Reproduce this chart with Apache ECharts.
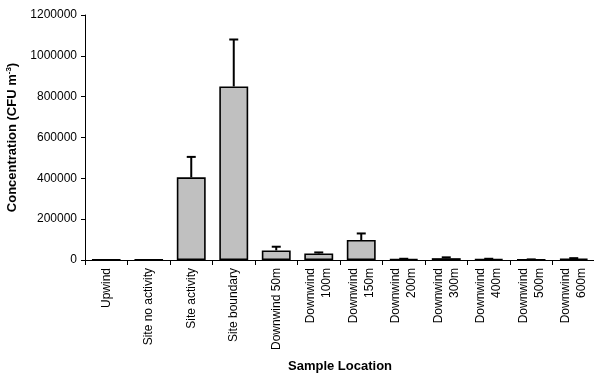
<!DOCTYPE html>
<html>
<head>
<meta charset="utf-8">
<script src="https://cdn.jsdelivr.net/npm/echarts@6/dist/echarts.min.js"></script>
<style>html,body{margin:0;padding:0;background:#fff;}#c{width:594px;height:375px;}</style>
</head>
<body>
<div id="c"></div>
<script>
var categories = ['Upwind', 'Site no activity', 'Site activity', 'Site boundary', 'Downwind 50m',
  'Downwind\n100m', 'Downwind\n150m', 'Downwind\n200m', 'Downwind\n300m', 'Downwind\n400m', 'Downwind\n500m', 'Downwind\n600m'];
var means = [1500, 1500, 405000, 850000, 47000, 32000, 98000, 5000, 9000, 5000, 2000, 6000];
var errors = [0, 0, 100000, 230000, 18000, 5000, 32000, 1000, 4000, 1000, 1000, 3000];
var yTicks = [0, 200000, 400000, 600000, 800000, 1000000, 1200000];

var errData = means.map(function (m, i) { return [i, m, errors[i]]; });
var font = 'Liberation Sans, Arial, sans-serif';
var chart = echarts.init(document.getElementById('c'), null, { renderer: 'canvas' });
chart.setOption({
  animation: false,
  backgroundColor: '#fff',
  grid: { left: 85, top: 15, width: 510, height: 245, containLabel: false, outerBoundsMode: 'none' },
  xAxis: {
    type: 'category',
    data: categories,
    name: 'Sample Location',
    nameLocation: 'middle',
    nameGap: 100,
    nameTextStyle: { fontFamily: font, fontSize: 13, fontWeight: 'bold', color: '#000' },
    axisLine: { lineStyle: { color: '#000', width: 1 } },
    axisTick: { show: true, alignWithLabel: false, length: 5, lineStyle: { color: '#000' } },
    axisLabel: { rotate: 90, interval: 0, margin: 8, fontFamily: font, fontSize: 12, color: '#000', lineHeight: 16 }
  },
  yAxis: {
    type: 'value',
    min: yTicks[0],
    max: yTicks[yTicks.length - 1],
    interval: yTicks[1] - yTicks[0],
    name: '{n|Concentration (CFU m}{s|-3}{n|)}',
    nameLocation: 'middle',
    nameGap: 61,
    nameRotate: 90,
    nameTextStyle: {
      rich: {
        n: { fontFamily: font, fontSize: 13, fontWeight: 'bold', color: '#000' },
        s: { fontFamily: font, fontSize: 8, fontWeight: 'bold', color: '#000', padding: [0, 0, 8, 0] }
      }
    },
    splitLine: { show: false },
    axisLine: { show: true, lineStyle: { color: '#000', width: 1 } },
    axisTick: { show: true, length: 4, lineStyle: { color: '#000' } },
    axisLabel: { margin: 8, fontFamily: font, fontSize: 12, color: '#000', formatter: function (v) { return String(v); } }
  },
  series: [
    {
      type: 'bar',
      data: means,
      barCategoryGap: '32%',
      itemStyle: { color: '#c0c0c0', borderColor: '#000', borderWidth: 1.6 }
    },
    {
      type: 'custom',
      data: errData,
      z: 3,
      renderItem: function (params, api) {
        var i = api.value(0), m = api.value(1), e = api.value(2);
        if (!e) return null;
        var p0 = api.coord([i, m]);
        var p1 = api.coord([i, m + e]);
        var hw = 4.5;
        return {
          type: 'group',
          children: [
            { type: 'line', shape: { x1: p0[0], y1: p0[1], x2: p1[0], y2: p1[1] }, style: { stroke: '#000', lineWidth: 2 } },
            { type: 'line', shape: { x1: p1[0] - hw, y1: p1[1], x2: p1[0] + hw, y2: p1[1] }, style: { stroke: '#000', lineWidth: 2 } }
          ]
        };
      }
    }
  ]
});
</script>
</body>
</html>
